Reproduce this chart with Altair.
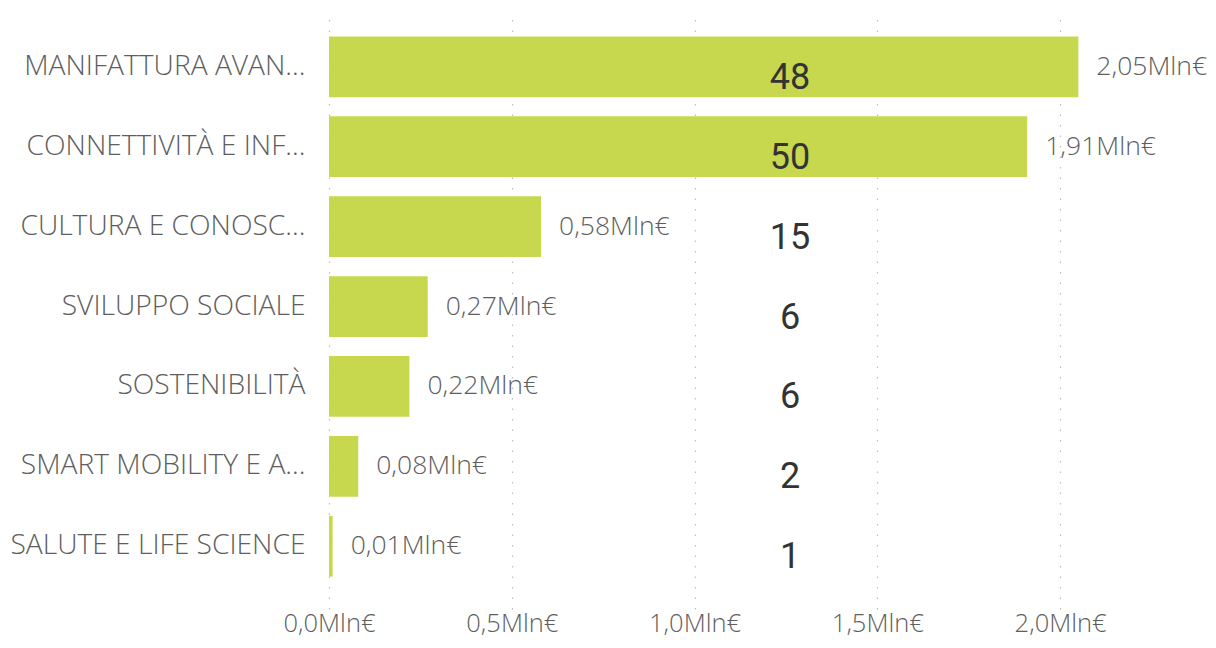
import altair as alt
import pandas as pd

categories = [
    "MANIFATTURA AVAN...",
    "CONNETTIVITÀ E INF...",
    "CULTURA E CONOSC...",
    "SVILUPPO SOCIALE",
    "SOSTENIBILITÀ",
    "SMART MOBILITY E A...",
    "SALUTE E LIFE SCIENCE",
]
amounts_mln = [2.05, 1.91, 0.58, 0.27, 0.22, 0.08, 0.01]
counts = [48, 50, 15, 6, 6, 2, 1]
tick_values = [0.0, 0.5, 1.0, 1.5, 2.0]

df = pd.DataFrame({"cat": categories, "amt": amounts_mln, "n": counts})
df["amt_label"] = [f"{v:.2f}".replace(".", ",") + "Mln€" for v in amounts_mln]

GREEN = "#C7D84F"
LABEL_FONT = "Open Sans"
LABEL_COLOR = "#5E5E5E"

y_enc = alt.Y(
    "cat:N",
    sort=categories,
    title=None,
    scale=alt.Scale(paddingInner=0.24, paddingOuter=0.355, align=0.43),
    axis=alt.Axis(
        domain=False, ticks=False, grid=False,
        labelFont=LABEL_FONT, labelFontSize=28.2, labelFontWeight=300,
        labelColor=LABEL_COLOR, labelPadding=24, labelLimit=330,
    ),
)
x_scale = alt.Scale(domain=[0, 2.38], nice=False, zero=True)

base = alt.Chart(df)

bars = base.mark_bar(color=GREEN).encode(
    x=alt.X(
        "amt:Q",
        scale=x_scale,
        title=None,
        axis=alt.Axis(
            values=tick_values,
            labelExpr="replace(format(datum.value, '.1f'), '.', ',') + 'Mln€'",
            domain=False, ticks=False,
            grid=True, gridColor="#BDBDBD", gridDash=[1.5, 9], gridWidth=1.2,
            labelFont=LABEL_FONT, labelFontSize=25.5, labelFontWeight=300,
            labelColor=LABEL_COLOR,
            labelAlign="center", labelFlush=False, labelBound=False,
            labelPadding=2,
        ),
    ),
    y=y_enc,
)

value_text = base.mark_text(
    align="left", baseline="middle", dx=18,
    font=LABEL_FONT, fontSize=26.5, fontWeight=300, color=LABEL_COLOR,
).encode(x=alt.X("amt:Q", scale=x_scale), y=alt.Y("cat:N", sort=categories), text="amt_label:N")

count_text = base.mark_text(
    align="center", baseline="middle", dy=11,
    font="Roboto", fontSize=36, color="#333333",
).encode(x=alt.value(461), y=alt.Y("cat:N", sort=categories), text="n:Q")

chart = (
    alt.layer(bars, value_text, count_text)
    .properties(
        width=870, height=597,
        autosize=alt.AutoSizeParams(type="none"),
        padding={"left": 321, "top": 4, "right": 9, "bottom": 31},
    )
    .configure_view(stroke=None)
)

chart.save("out.html", embed_options={"renderer": "svg", "actions": False})
